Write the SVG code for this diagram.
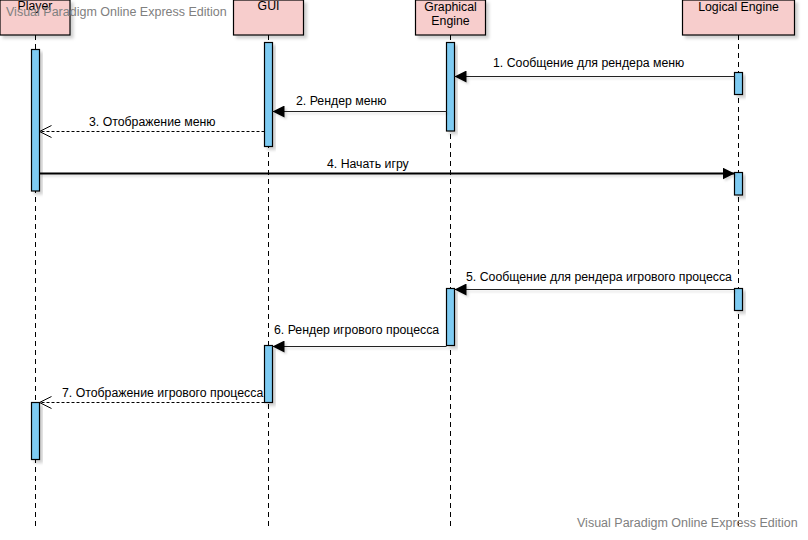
<svg xmlns="http://www.w3.org/2000/svg" width="808" height="540" viewBox="0 0 808 540">
<style>
  text { font-family: "Liberation Sans", Arial, sans-serif; font-size: 12.3px; fill: #000; }
  .wm { fill: #808080; font-size: 12.5px; }
  .box { fill: #f7cdcc; stroke: #000; stroke-width: 1.2; filter: url(#sh); }
  .life { stroke: #000; stroke-width: 1; stroke-dasharray: 5,4; fill: none; }
  .act { fill: #7ecbf2; stroke: #000; stroke-width: 1.2; filter: url(#sh); }
  .msg { stroke: #222; stroke-width: 1; fill: none; filter: url(#shl); }
  .msgb { stroke: #000; stroke-width: 1.8; fill: none; filter: url(#shl); }
  .ret { stroke: #000; stroke-width: 1; stroke-dasharray: 3,2; fill: none; }
  .c { text-anchor: middle; }
</style>
<defs>
  <filter id="sh" x="-20%" y="-20%" width="160%" height="160%">
    <feDropShadow dx="3" dy="3" stdDeviation="1.5" flood-color="#000" flood-opacity="0.18"/>
  </filter>
  <filter id="shl" filterUnits="userSpaceOnUse" x="0" y="0" width="808" height="540">
    <feDropShadow dx="2" dy="2" stdDeviation="1.2" flood-color="#000" flood-opacity="0.15"/>
  </filter>
  <marker id="fill" viewBox="0 0 12 12" refX="12" refY="6" markerWidth="12" markerHeight="12" markerUnits="userSpaceOnUse" orient="auto">
    <path d="M0,0 L12,6 L0,12 Z" fill="#000"/>
  </marker>
  <marker id="open" viewBox="0 0 14 14" refX="13" refY="7" markerWidth="14" markerHeight="14" markerUnits="userSpaceOnUse" orient="auto">
    <path d="M1,1 L13,7 L1,13" fill="none" stroke="#000" stroke-width="1"/>
  </marker>
</defs>
<rect width="808" height="540" fill="#fff"/>

<g id="player">
  <line class="life" x1="35.5" y1="35" x2="35.5" y2="527"/>
  <rect class="box" x="0" y="0" width="70" height="35"/>
  <text class="c" x="35" y="10">Player</text>
  <rect class="act" x="31.5" y="49.5" width="8" height="141.5"/>
  <rect class="act" x="31.5" y="402.5" width="8" height="57"/>
</g>

<g id="gui">
  <line class="life" x1="268.5" y1="35" x2="268.5" y2="527"/>
  <rect class="box" x="233.5" y="0" width="70" height="35"/>
  <text class="c" x="268.5" y="10">GUI</text>
  <rect class="act" x="264.5" y="42.5" width="8" height="104"/>
  <rect class="act" x="264.5" y="345.5" width="8" height="57"/>
</g>

<g id="graphical-engine">
  <line class="life" x1="450.5" y1="35" x2="450.5" y2="527"/>
  <rect class="box" x="415.5" y="0" width="70" height="35"/>
  <text class="c" x="450.5" y="11">Graphical</text>
  <text class="c" x="450.5" y="25">Engine</text>
  <rect class="act" x="446.5" y="42.5" width="8" height="88.5"/>
  <rect class="act" x="446.5" y="288.5" width="8" height="57"/>
</g>

<g id="logical-engine">
  <line class="life" x1="738.5" y1="35" x2="738.5" y2="527"/>
  <rect class="box" x="682.5" y="0" width="112" height="35"/>
  <text class="c" x="738.5" y="11">Logical Engine</text>
  <rect class="act" x="734.5" y="72.5" width="8" height="22"/>
  <rect class="act" x="734.5" y="172.5" width="8" height="22.5"/>
  <rect class="act" x="734.5" y="288.5" width="8" height="22"/>
</g>

<g id="connectors">
  <line class="msg" x1="734.5" y1="76.5" x2="454.5" y2="76.5" marker-end="url(#fill)"/>
  <text x="493" y="67">1. Сообщение для рендера меню</text>

  <line class="msg" x1="446.5" y1="111.5" x2="272.5" y2="111.5" marker-end="url(#fill)"/>
  <text x="296" y="105">2. Рендер меню</text>

  <line class="ret" x1="264.5" y1="131.5" x2="39.5" y2="131.5" marker-end="url(#open)"/>
  <text x="89" y="126">3. Отображение меню</text>

  <line class="msgb" x1="39.5" y1="173.5" x2="734.5" y2="173.5" marker-end="url(#fill)"/>
  <text x="327" y="168">4. Начать игру</text>

  <line class="msg" x1="734.5" y1="289.5" x2="454.5" y2="289.5" marker-end="url(#fill)"/>
  <text x="466" y="281">5. Сообщение для рендера игрового процесса</text>

  <line class="msg" x1="446.5" y1="346.5" x2="272.5" y2="346.5" marker-end="url(#fill)"/>
  <text x="274" y="334">6. Рендер игрового процесса</text>

  <line class="ret" x1="264.5" y1="402.5" x2="39.5" y2="402.5" marker-end="url(#open)"/>
  <text x="62" y="397">7. Отображение игрового процесса</text>
</g>

<text class="wm" x="6" y="16">Visual Paradigm Online Express Edition</text>
<text class="wm" x="577" y="527">Visual Paradigm Online Express Edition</text>
</svg>
